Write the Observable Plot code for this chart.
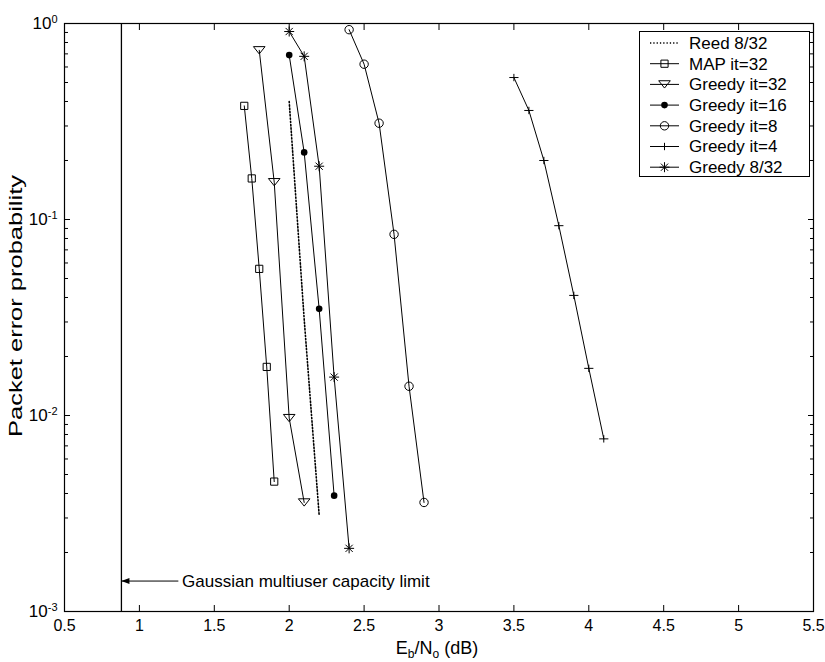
<!DOCTYPE html>
<html><head><meta charset="utf-8">
<script src="https://cdn.jsdelivr.net/npm/d3@7"></script>
<script src="https://cdn.jsdelivr.net/npm/@observablehq/plot@0.6"></script>
<style>
body{margin:0;background:#fff;}
#wrap{position:relative;width:825px;height:662px;}
</style></head><body><div id="wrap"></div>
<script>
// ---- data ----
const seriesNames = ["Reed 8/32","MAP it=32","Greedy it=32","Greedy it=16","Greedy it=8","Greedy it=4","Greedy 8/32"];
const reedX = [2.0, 2.1, 2.2];
const reedY = [0.40, 0.031, 0.0031];
const mapX = [1.7, 1.75, 1.8, 1.85, 1.9];
const mapY = [0.38, 0.162, 0.056, 0.0177, 0.0046];
const g32X = [1.8, 1.9, 2.0, 2.1];
const g32Y = [0.73, 0.155, 0.0097, 0.0036];
const g16X = [2.0, 2.1, 2.2, 2.3];
const g16Y = [0.69, 0.22, 0.035, 0.0039];
const g8X = [2.4, 2.5, 2.6, 2.7, 2.8, 2.9];
const g8Y = [0.93, 0.62, 0.31, 0.084, 0.0141, 0.0036];
const g4X = [3.5, 3.6, 3.7, 3.8, 3.9, 4.0, 4.1];
const g4Y = [0.53, 0.36, 0.20, 0.093, 0.041, 0.0174, 0.0076];
const g832X = [2.0, 2.1, 2.2, 2.3, 2.4];
const g832Y = [0.91, 0.68, 0.187, 0.0157, 0.0021];

const capacityX = 0.88;
const capacityArrowY = 0.00143;
const capacityArrowStartX = 1.26;
const capacityTextX = 1.285;
const capacityText = "Gaussian multiuser capacity limit";

const xTickValues = [0.5,1,1.5,2,2.5,3,3.5,4,4.5,5,5.5];
const xTickLabels = ["0.5","1","1.5","2","2.5","3","3.5","4","4.5","5","5.5"];
const yTickValues = [1e-3, 1e-2, 1e-1, 1];
const yTickLabels = [["10","-3"],["10","-2"],["10","-1"],["10","0"]];
const yMinorTicks = [];
for (const k of [-3,-2,-1]) for (let m = 2; m <= 9; m++) yMinorTicks.push(m * Math.pow(10, k));

// ---- symbols ----
const rOf = s => Math.sqrt(s / Math.PI);
const symSquare = {draw(c, s){ const h = rOf(s)*0.9; c.rect(-h,-h,2*h,2*h); }};
const symTriDown = {draw(c, s){ const r = rOf(s); c.moveTo(-1.35*r,-0.85*r); c.lineTo(1.35*r,-0.85*r); c.lineTo(0,0.85*r); c.closePath(); }};
const symCircle = {draw(c, s){ const r = rOf(s); c.moveTo(r,0); c.arc(0,0,r,0,2*Math.PI); }};
const symPlus = {draw(c, s){ const r = rOf(s); c.moveTo(-r,0); c.lineTo(r,0); c.moveTo(0,-0.8*r); c.lineTo(0,0.8*r); }};
const symAst = {draw(c, s){ const r = rOf(s), b = r*0.72; c.moveTo(-r,0); c.lineTo(r,0); c.moveTo(0,-r); c.lineTo(0,r); c.moveTo(-b,-b); c.lineTo(b,b); c.moveTo(-b,b); c.lineTo(b,-b); }};
const symArrowHead = {draw(c, s){ c.moveTo(0,0); c.lineTo(8,-3); c.lineTo(8,3); c.closePath(); }};

const series = [
  {name: seriesNames[0], xs: reedX, ys: reedY, symbol: null, dash: "1.3,2", sw: 1.6},
  {name: seriesNames[1], xs: mapX, ys: mapY, symbol: symSquare, r: 4, fill: "none"},
  {name: seriesNames[2], xs: g32X, ys: g32Y, symbol: symTriDown, r: 4.3, fill: "none"},
  {name: seriesNames[3], xs: g16X, ys: g16Y, symbol: symCircle, r: 3.3, fill: "black"},
  {name: seriesNames[4], xs: g8X, ys: g8Y, symbol: symCircle, r: 4.2, fill: "none"},
  {name: seriesNames[5], xs: g4X, ys: g4Y, symbol: symPlus, r: 4.6, fill: "none"},
  {name: seriesNames[6], xs: g832X, ys: g832Y, symbol: symAst, r: 5, fill: "none"}
];
series.forEach(s => s.rows = s.xs.map((x, i) => ({series: s.name, x, y: s.ys[i]})));

const FONT = "Liberation Sans, Arial, Helvetica, sans-serif";

const marks = [
  Plot.ruleX([capacityX], {stroke: "black", strokeWidth: 1.3}),
  Plot.link([{x1: capacityArrowStartX, x2: capacityX, y: capacityArrowY}], {x1: "x1", x2: "x2", y1: "y", y2: "y", stroke: "black", strokeWidth: 1}),
  Plot.dot([{x: capacityX, y: capacityArrowY}], {x: "x", y: "y", symbol: symArrowHead, fill: "black", stroke: "none", r: 4}),
  Plot.text([capacityText], {x: () => capacityTextX, y: () => capacityArrowY, text: d => d, textAnchor: "start", fontSize: 17, fill: "black"})
];
for (const s of series) {
  marks.push(Plot.line(s.rows, {x: "x", y: "y", stroke: "black", strokeWidth: s.sw || 1, strokeDasharray: s.dash || null}));
  if (s.symbol) {
    marks.push(Plot.dot(s.rows, {x: "x", y: "y", symbol: s.symbol, r: s.r, fill: s.fill, stroke: s.fill === "black" ? "none" : "black", strokeWidth: 1}));
  }
}
marks.push(
  Plot.frame({stroke: "black", strokeWidth: 1.2}),
  Plot.axisX(xTickValues, {anchor: "bottom", tickSize: -6, tickFormat: () => "", label: null}),
  Plot.axisX(xTickValues, {anchor: "top", tickSize: -6, tickFormat: () => "", label: null}),
  Plot.axisY(yTickValues, {anchor: "left", tickSize: -6, tickFormat: () => "", label: null}),
  Plot.axisY(yTickValues, {anchor: "right", tickSize: -6, tickFormat: () => "", label: null}),
  Plot.axisY(yMinorTicks, {anchor: "left", tickSize: -4, tickFormat: () => "", label: null}),
  Plot.axisY(yMinorTicks, {anchor: "right", tickSize: -4, tickFormat: () => "", label: null}),
  Plot.axisX(xTickValues, {anchor: "bottom", tickSize: 0, tickPadding: 8, fontSize: 16, tickFormat: d => xTickLabels[xTickValues.indexOf(d)], label: null}),
  Plot.axisY(yTickValues, {anchor: "left", tickSize: 0, tickPadding: 7, fontSize: 17, tickFormat: d => yTickLabels[yTickValues.indexOf(d)].join("^"), label: null})
);

const svg = Plot.plot({
  width: 825, height: 662,
  marginLeft: 64, marginRight: 12, marginTop: 23, marginBottom: 51,
  style: {fontFamily: FONT, fontSize: "16px", color: "black", background: "white", overflow: "visible"},
  x: {domain: [0.5, 5.5]},
  y: {type: "log", domain: [1e-3, 1]},
  marks
});
document.getElementById("wrap").appendChild(svg);

const root = d3.select(svg);
// superscripts for y tick labels
root.selectAll('g[aria-label="y-axis tick label"] text').each(function(){
  const t = this.textContent;
  if (!t.includes("^")) return;
  const [b, e] = t.split("^");
  const sel = d3.select(this);
  sel.text(null);
  sel.append("tspan").text(b);
  sel.append("tspan").attr("dy", "-0.5em").attr("font-size", "11px").text(e);
});

// axis labels
root.append("text")
  .attr("transform", "translate(22,306) rotate(-90)")
  .attr("text-anchor", "middle").attr("font-family", FONT).attr("font-size", 18).attr("fill", "black")
  .attr("textLength", 262).attr("lengthAdjust", "spacingAndGlyphs")
  .text("Packet error probability");
const xlab = root.append("text")
  .attr("x", 437).attr("y", 654).attr("text-anchor", "middle")
  .attr("font-family", FONT).attr("font-size", 18).attr("fill", "black");
xlab.append("tspan").text("E");
xlab.append("tspan").attr("dy", 4).attr("font-size", 12).text("b");
xlab.append("tspan").attr("dy", -4).text("/N");
xlab.append("tspan").attr("dy", 4).attr("font-size", 12).text("o");
xlab.append("tspan").attr("dy", -4).text(" (dB)");

// legend
const lg = root.append("g").attr("font-family", FONT).attr("font-size", 17).attr("text-anchor", "start");
lg.append("rect").attr("x", 639.5).attr("y", 31.5).attr("width", 170).attr("height", 145)
  .attr("fill", "white").attr("stroke", "black").attr("stroke-width", 1);
series.forEach((s, i) => {
  const cy = 43 + i * 20.7;
  lg.append("line").attr("x1", 650).attr("x2", 679).attr("y1", cy).attr("y2", cy)
    .attr("stroke", "black").attr("stroke-width", s.sw || 1).attr("stroke-dasharray", s.dash || null);
  if (s.symbol) {
    lg.append("path").attr("transform", `translate(664.5,${cy})`)
      .attr("d", d3.symbol(s.symbol, s.r * s.r * Math.PI)())
      .attr("fill", s.fill).attr("stroke", s.fill === "black" ? "none" : "black").attr("stroke-width", 1);
  }
  lg.append("text").attr("x", 689).attr("y", cy).attr("dy", "0.35em").attr("text-anchor", "start").attr("fill", "black").text(s.name);
});
</script></body></html>
